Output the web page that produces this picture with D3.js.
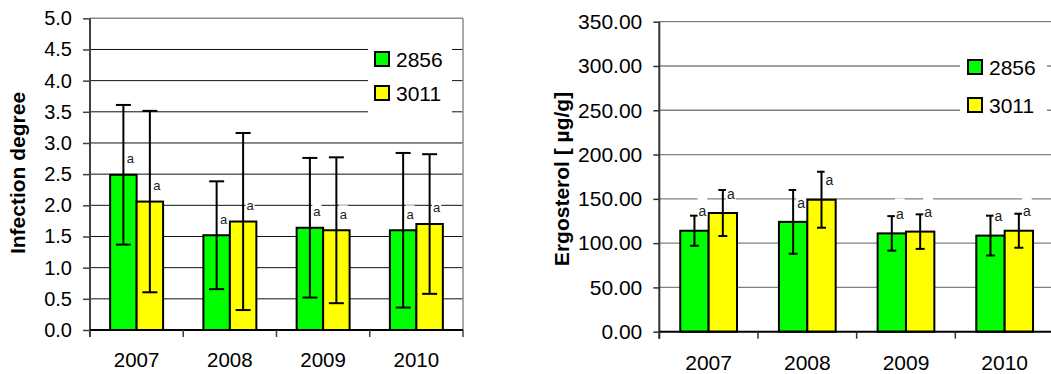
<!DOCTYPE html>
<html>
<head>
<meta charset="utf-8">
<script src="https://cdn.jsdelivr.net/npm/d3@7"></script>
<style>
  html, body { margin: 0; padding: 0; background: #fff; }
  svg { display: block; font-family: "Liberation Sans", Arial, sans-serif; }
</style>
</head>
<body>
<script>
// Years on the category axis and the two cultivars compared
const years = ["2007", "2008", "2009", "2010"];
const cultivars = ["2856", "3011"];
const cultivarColors = ["#00ff00", "#ffff00"];

// Infection degree (mean and standard deviation)
const infection2856 = [2.49, 1.52, 1.64, 1.60];
const infection2856Sd = [1.12, 0.865, 1.12, 1.24];
const infection3011 = [2.06, 1.74, 1.60, 1.70];
const infection3011Sd = [1.455, 1.42, 1.17, 1.12];
const infectionLetters2856 = ["a", "a", "a", "a"];
const infectionLetters3011 = ["a", "a", "a", "a"];
const infectionTicks = [0, 0.5, 1.0, 1.5, 2.0, 2.5, 3.0, 3.5, 4.0, 4.5, 5.0];

// Ergosterol content in µg/g (mean and standard deviation)
const ergo2856 = [114, 124, 111, 108.5];
const ergo2856Sd = [17, 36, 19.5, 22.5];
const ergo3011 = [134, 149, 113, 114];
const ergo3011Sd = [26, 31.6, 19.5, 19.2];
const ergoLetters2856 = ["a", "a", "a", "a"];
const ergoLetters3011 = ["a", "a", "a", "a"];
const ergoTicks = [0, 50, 100, 150, 200, 250, 300, 350];

const svg = d3.select("body").append("svg")
  .attr("width", 1051).attr("height", 374);
svg.append("rect").attr("width", 1051).attr("height", 374).attr("fill", "#fff");

function drawPanel(o) {
  const g = svg.append("g");
  const x = d3.scaleBand().domain(years).range(o.xRange)
    .paddingInner(o.pad).paddingOuter(o.pad / 2);
  const xi = d3.scaleBand().domain(cultivars).range([0, x.bandwidth()]);
  const y = d3.scaleLinear().domain([0, o.max]).range(o.yRange);
  const [x0, x1] = o.xRange;

  // gridlines
  g.append("g").selectAll("line").data(o.ticks.slice(1)).join("line")
    .attr("x1", x0).attr("x2", x1)
    .attr("y1", d => y(d)).attr("y2", d => y(d))
    .attr("stroke", d => d === o.max ? o.borderColor : o.gridColor)
    .attr("stroke-width", d => d === o.max ? o.borderWidth : o.gridWidth);
  if (o.rightBorder) {
    g.append("line").attr("x1", x1).attr("x2", x1)
      .attr("y1", y(o.max)).attr("y2", y(0))
      .attr("stroke", o.borderColor).attr("stroke-width", o.borderWidth);
  }

  // legend background
  g.append("rect").attr("x", o.legend.x).attr("y", o.legend.y)
    .attr("width", o.legend.w).attr("height", o.legend.h).attr("fill", "#fff");

  // bars
  const rows = years.map((yr, i) => cultivars.map((c, k) => ({
    year: yr, cultivar: c, k,
    value: o.values[k][i], sd: o.sds[k][i], letter: o.letters[k][i]
  }))).flat();

  g.append("g").selectAll("rect").data(rows).join("rect")
    .attr("x", d => x(d.year) + xi(d.cultivar))
    .attr("y", d => y(d.value))
    .attr("width", xi.bandwidth())
    .attr("height", d => y(0) - y(d.value))
    .attr("fill", d => cultivarColors[d.k])
    .attr("stroke", "#000").attr("stroke-width", 2);

  // error bars
  const eb = g.append("g").attr("stroke", "#000").attr("stroke-width", 2);
  rows.forEach(d => {
    const cx = x(d.year) + xi(d.cultivar) + xi.bandwidth() / 2;
    const yt = y(d.value + d.sd), yb = y(Math.max(0, d.value - d.sd));
    eb.append("line").attr("x1", cx).attr("x2", cx).attr("y1", yt).attr("y2", yb);
    eb.append("line").attr("x1", cx - o.cap / 2).attr("x2", cx + o.cap / 2).attr("y1", yt).attr("y2", yt);
    eb.append("line").attr("x1", cx - o.cap / 2).attr("x2", cx + o.cap / 2).attr("y1", yb).attr("y2", yb);
  });

  // significance letters on a white label box
  const lab = g.append("g");
  rows.forEach(d => {
    const cx = x(d.year) + xi(d.cultivar) + xi.bandwidth() / 2 + o.letterDx;
    const cy = y(d.value) - o.letterDy;
    const w = o.letterSize * 0.556 + 2;
    lab.append("rect").attr("x", cx - w / 2).attr("y", cy - o.letterTop)
      .attr("width", w).attr("height", o.letterTop + o.letterSize * 0.45)
      .attr("fill", "#fff");
    lab.append("text").attr("x", cx).attr("y", cy + o.letterSize * 0.26)
      .attr("text-anchor", "middle").attr("font-size", o.letterSize)
      .attr("fill", "#222").text(d.letter);
  });

  // y axis
  const ya = g.append("g").attr("transform", `translate(${x0},0)`)
    .call(d3.axisLeft(y).tickValues(o.ticks).tickFormat(o.fmt)
      .tickSize(o.tickLen).tickPadding(o.tickPad));
  ya.select(".domain").attr("stroke", o.axisColor).attr("stroke-width", 2)
    .attr("d", `M0,${y(o.max)}V${y(0) + 7}`);
  ya.selectAll(".tick line").attr("stroke", o.axisColor).attr("stroke-width", 1.5);
  ya.selectAll(".tick text").attr("font-size", o.tickFont).attr("fill", "#000")
    .attr("font-family", "Liberation Sans, Arial, sans-serif");

  // x axis line and category boundaries
  g.append("line").attr("x1", x0).attr("x2", Math.min(x1, 1051))
    .attr("y1", y(0)).attr("y2", y(0)).attr("stroke", "#000").attr("stroke-width", 2);
  const bounds = d3.range(years.length + 1).map(i => x0 + i * x.step());
  g.append("g").selectAll("line").data(bounds).join("line")
    .attr("x1", d => d).attr("x2", d => d)
    .attr("y1", y(0)).attr("y2", y(0) + 7)
    .attr("stroke", o.axisColor).attr("stroke-width", 1.5);
  g.append("g").selectAll("text").data(years).join("text")
    .attr("x", d => x(d) + x.bandwidth() / 2).attr("y", o.xLabelY)
    .attr("text-anchor", "middle").attr("font-size", o.xFont).attr("fill", "#000")
    .text(d => d);

  // axis title
  g.append("text")
    .attr("transform", `translate(${o.title.x},${o.title.y}) rotate(-90)`)
    .attr("text-anchor", "middle").attr("font-size", 21).attr("font-weight", "bold")
    .attr("fill", "#000").text(o.title.text);

  // legend entries
  cultivars.forEach((c, k) => {
    const cy = o.legend.rows[k];
    g.append("rect").attr("x", o.legend.sx).attr("y", cy - 7)
      .attr("width", 14).attr("height", 14)
      .attr("fill", cultivarColors[k]).attr("stroke", "#000").attr("stroke-width", 2);
    g.append("text").attr("x", o.legend.sx + 21).attr("y", cy + 7.5)
      .attr("font-size", 21).attr("fill", "#000").text(c);
  });
}

drawPanel({
  xRange: [90, 463], yRange: [330, 18.3], pad: 0.432, max: 5,
  ticks: infectionTicks, fmt: d3.format(".1f"),
  values: [infection2856, infection3011], sds: [infection2856Sd, infection3011Sd],
  letters: [infectionLetters2856, infectionLetters3011],
  gridColor: "#111", gridWidth: 1, borderColor: "#8c8c8c", borderWidth: 1.5, rightBorder: true,
  axisColor: "#404040", tickLen: 7, tickPad: 11, tickFont: 20, xFont: 20.5, xLabelY: 367,
  cap: 15, letterDx: 7, letterDy: 15, letterSize: 13, letterTop: 10,
  title: { x: 25, y: 173, text: "Infection degree" },
  legend: { x: 368, y: 38, w: 84, h: 80, sx: 375, rows: [59, 93] }
});

drawPanel({
  xRange: [659.3, 1054], yRange: [331.7, 21.7], pad: 0.425, max: 350,
  ticks: ergoTicks, fmt: d3.format(".2f"),
  values: [ergo2856, ergo3011], sds: [ergo2856Sd, ergo3011Sd],
  letters: [ergoLetters2856, ergoLetters3011],
  gridColor: "#808080", gridWidth: 1.3, borderColor: "#808080", borderWidth: 1.3, rightBorder: false,
  axisColor: "#333", tickLen: 6, tickPad: 11, tickFont: 21, xFont: 21, xLabelY: 370,
  cap: 9, letterDx: 8, letterDy: 18, letterSize: 14, letterTop: 17,
  title: { x: 569, y: 179, text: "Ergosterol [ µg/g]" },
  legend: { x: 960, y: 45, w: 87, h: 74, sx: 968, rows: [67, 105] }
});
</script>
</body>
</html>
